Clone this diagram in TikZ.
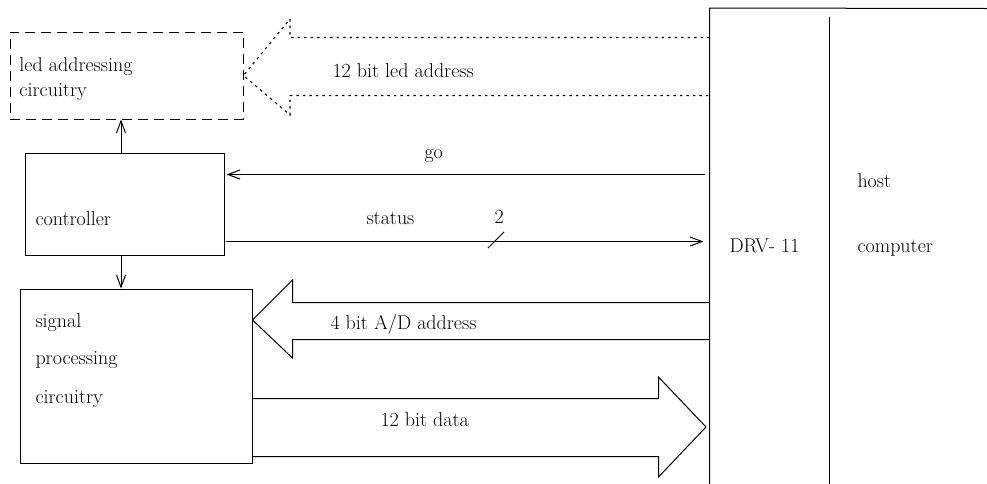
\documentclass[tikz,border=0pt]{standalone}
\usepackage{fontspec}
\usetikzlibrary{arrows.meta}
\begin{document}
\begin{tikzpicture}[x=1pt,y=-1pt,line width=1pt,
  lbl/.style={anchor=base west,inner sep=0pt,font=\fontsize{20}{24}\selectfont},
  box/.style={draw,inner sep=0pt},
  sig/.style={-{Straight Barb[length=12pt,width=9pt]}},
  dotline/.style={line width=1.1pt,dash pattern=on 2.5pt off 4pt},
  dashline/.style={dash pattern=on 10pt off 6pt}]
\useasboundingbox (0,0) rectangle (987,483);
% boxes
\node[box,dashline,minimum width=233pt,minimum height=87pt] (led) at (126.5,75.5) {};
\node[box,minimum width=199pt,minimum height=102pt] (ctrl) at (124.5,204) {};
\node[box,minimum width=232pt,minimum height=174pt] (sigp) at (136,376) {};
\node[inner sep=0pt,minimum width=119pt,minimum height=475pt] (drv) at (769.5,246) {};
\coordinate (hostTR) at (987,8.5);
\coordinate (hostIn) at (829.5,17);
\draw (drv.south west) -- (drv.north west) -- (hostTR);
\draw (hostIn) -- (hostIn |- drv.south);
% texts
\node[lbl] (t1) at (19,71) {led addressing};
\node[lbl] (t2) at (19,96) {circuitry};
\node[lbl] (t3) at (35,225) {controller};
\node[lbl] (t4) at (35,327) {signal};
\node[lbl] (t5) at (35,364) {processing};
\node[lbl] (t6) at (35,403) {circuitry};
\node[lbl] (tdrv) at (729,252) {DRV- 11};
\node[lbl] (thost) at (857,187) {host};
\node[lbl] (tcomp) at (857,252) {computer};
% led address (dotted wide arrow)
\draw[dotline] (drv.west |- 0,37.5) -- (290,37.5) -- (290,19) -- (led.east) -- (290,115) -- (290,95.5) -- (drv.west |- 0,95.5);
\node[lbl] (tled) at (332,77) {12 bit led address};
% vertical arrows
\draw[sig] ([xshift=-3.5pt]ctrl.north) -- ([xshift=-3.5pt]ctrl.north |- led.south);
\draw[sig] ([xshift=-3.5pt]ctrl.south) -- ([xshift=-3.5pt]ctrl.south |- sigp.north);
% go
\coordinate (goS) at (705,174.5);
\draw[sig] (goS) -- ([xshift=2pt]goS -| ctrl.east);
\node[lbl] (tgo) at (424,158) {go};
% status
\coordinate (stS) at (226,241.5);
\draw[sig] (stS) -- ([xshift=-6pt]stS -| drv.west);
\node[lbl] (tst) at (366,224) {status};
\coordinate (slA) at (488,248);
\coordinate (slB) at (504,232);
\draw (slA) -- (slB);
\node[lbl] (t2b) at (494,223) {2};
% A/D address wide arrow
\draw (drv.west |- 0,302.5) -- (292.5,302.5) -- (292.5,280) -- (sigp.east |- 0,320) -- (292.5,358) -- (292.5,339.5) -- (drv.west |- 0,339.5);
\node[lbl] (tad) at (330,329) {4 bit A/D address};
% 12 bit data wide arrow
\draw (sigp.east |- 0,398.5) -- (658.5,398.5) -- (658.5,377) -- (706,427) -- (658.5,477) -- (658.5,456.5) -- (sigp.east |- 0,456.5);
\node[lbl] (tdata) at (380,426) {12 bit data};
\end{tikzpicture}
\end{document}
